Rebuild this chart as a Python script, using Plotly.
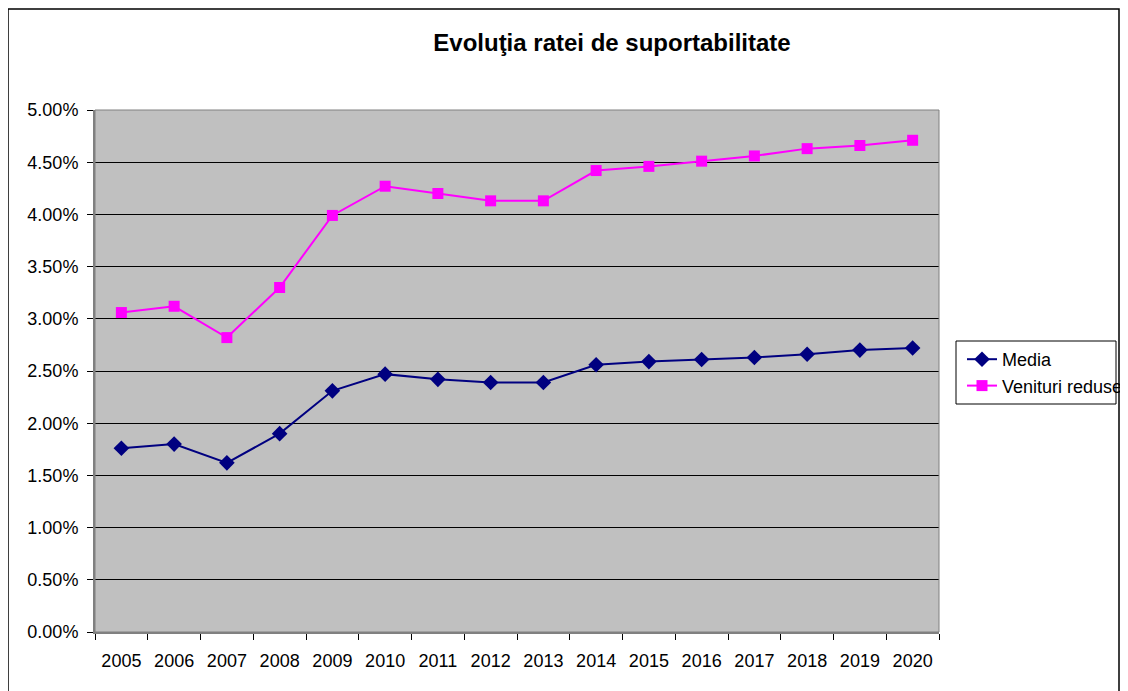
import plotly.graph_objects as go

# Years on the category axis
years = [str(y) for y in range(2005, 2021)]

# Rata de suportabilitate (%)
media = [1.76, 1.80, 1.62, 1.90, 2.31, 2.47, 2.42, 2.39, 2.39, 2.56, 2.59, 2.61, 2.63, 2.66, 2.70, 2.72]
venituri_reduse = [3.06, 3.12, 2.82, 3.30, 3.99, 4.27, 4.20, 4.13, 4.13, 4.42, 4.46, 4.51, 4.56, 4.63, 4.66, 4.71]

y_ticks = [i * 0.005 for i in range(11)]

fig = go.Figure()
fig.add_trace(go.Scatter(
    x=years, y=[v / 100 for v in media], name="Media",
    mode="lines+markers",
    line=dict(color="#000080", width=2),
    marker=dict(symbol="diamond", size=12, color="#000080"),
))
fig.add_trace(go.Scatter(
    x=years, y=[v / 100 for v in venituri_reduse], name="Venituri reduse",
    mode="lines+markers",
    line=dict(color="#FF00FF", width=2),
    marker=dict(symbol="square", size=11, color="#FF00FF"),
))

# page body has an 8px margin, so the figure is sized to fit inside it
W, H = 1120, 683
PX0, PY1, PW, PH = 95, 632, 844, 522  # plot area in page pixels

fig.update_layout(
    width=W, height=H,
    margin=dict(l=87, r=189, t=102, b=59, autoexpand=False),
    paper_bgcolor="white",
    plot_bgcolor="#C0C0C0",
    font=dict(family="Liberation Sans, Arial", size=18, color="black"),
    title=dict(text="<b>Evoluţia ratei de suportabilitate</b>",
               font=dict(size=24), x=604 / W, xref="container", xanchor="center",
               y=1 - 35 / H, yref="container", yanchor="middle"),
    legend=dict(x=(962 - PX0) / PW, y=(PY1 - 341) / PH, xanchor="left", yanchor="top",
                borderwidth=0, bgcolor="rgba(0,0,0,0)",
                font=dict(size=18), tracegroupgap=0),
    showlegend=True,
)

fig.update_xaxes(
    type="category", tickson="boundaries", ticks="outside", ticklen=6,
    tickcolor="black", showgrid=False, showline=True, linecolor="#808080",
    linewidth=2, range=[-0.5, 15.5], zeroline=False, ticklabelstandoff=11,
)
fig.update_yaxes(
    range=[0, 0.05], tickvals=y_ticks, tickformat=".2%",
    ticks="outside", ticklen=6, tickcolor="black",
    showgrid=True, gridcolor="black", gridwidth=1,
    showline=True, linecolor="#808080", linewidth=2, zeroline=False,
    ticklabelstandoff=5,
)

# plot area right/top border, outer chart frame, legend box
fig.add_shape(type="rect", xref="paper", yref="paper", x0=0, y0=0, x1=1, y1=1,
              line=dict(color="#808080", width=1), layer="above")
fig.add_shape(type="rect", xref="paper", yref="paper",
              x0=(8 - PX0) / PW, x1=(1119 - PX0) / PW,
              y0=-0.2, y1=(PY1 - 9) / PH,
              line=dict(color="black", width=1.5))
fig.add_shape(type="rect", xref="paper", yref="paper",
              x0=(956 - PX0) / PW, x1=(1116 - PX0) / PW,
              y0=(PY1 - 404) / PH, y1=(PY1 - 341) / PH,
              line=dict(color="black", width=1), fillcolor="white")

fig.write_html("out.html")
